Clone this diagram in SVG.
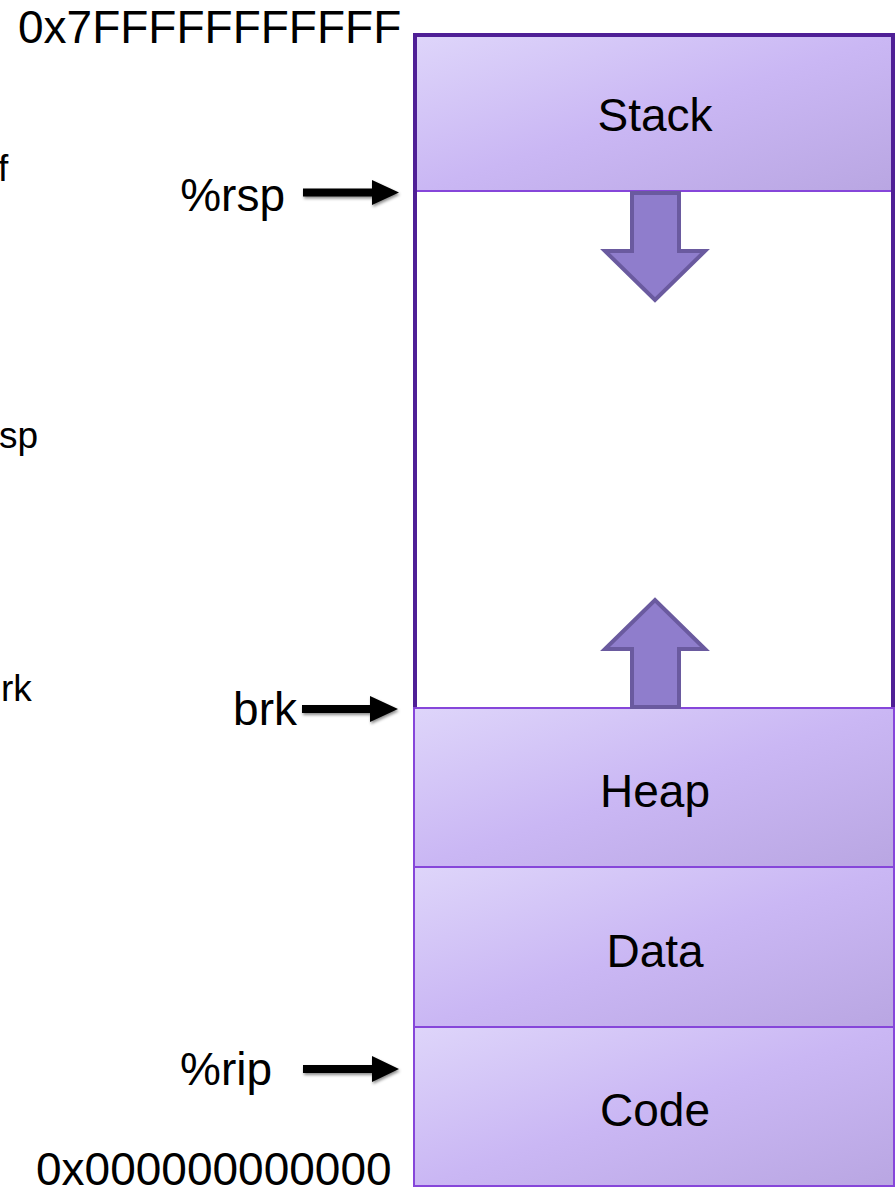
<svg xmlns="http://www.w3.org/2000/svg" width="896" height="1189" viewBox="0 0 896 1189">
<style>
.lbl{font-family:"Liberation Sans",Arial,sans-serif;font-size:46px;fill:#000}
.sm{font-family:"Liberation Sans",Arial,sans-serif;font-size:37px;fill:#000}
.seg{fill:url(#segGrad);stroke:#8646DA;stroke-width:2}
.blk{fill:#8F7DCC;stroke:#6A5A9F;stroke-width:4;stroke-linejoin:miter}
.ptr{fill:#000;filter:url(#shadow)}
</style>
<defs>
<linearGradient id="segGrad" x1="0" y1="0" x2="1" y2="1">
<stop offset="0" stop-color="#DED5FA"/>
<stop offset="0.5" stop-color="#CAB7F4"/>
<stop offset="1" stop-color="#B9A6E2"/>
</linearGradient>
<filter id="shadow" x="-20%" y="-50%" width="140%" height="200%">
<feDropShadow dx="1" dy="2" stdDeviation="1.5" flood-color="#000" flood-opacity="0.45"/>
</filter>
</defs>
<rect width="896" height="1189" fill="#fff"/>

<g id="labels">
<text class="lbl" x="18" y="43">0x7FFFFFFFFFFF</text>
<text class="lbl" x="36" y="1185">0x000000000000</text>
<text class="sm" x="-2" y="181">f</text>
<text class="sm" x="-1" y="448">sp</text>
<text class="sm" x="1" y="701">rk</text>
</g>

<g id="memory">
<g id="stack">
<rect x="416" y="36" width="476" height="155" fill="url(#segGrad)"/>
<line x1="416" y1="191" x2="892" y2="191" stroke="#8646DA" stroke-width="2"/>
<text class="lbl" x="655" y="131" text-anchor="middle">Stack</text>
</g>
<g id="free">
<rect x="417" y="192" width="475" height="515" fill="#fff"/>
</g>
<path id="border" d="M415,708 V35 H893 V708" fill="none" stroke="#4F1F96" stroke-width="4"/>
<g id="heap">
<rect class="seg" x="414" y="708" width="480" height="159"/>
<text class="lbl" x="655" y="807" text-anchor="middle">Heap</text>
</g>
<g id="data">
<rect class="seg" x="414" y="867" width="480" height="160"/>
<text class="lbl" x="655" y="967" text-anchor="middle">Data</text>
</g>
<g id="code">
<rect class="seg" x="414" y="1027" width="480" height="159"/>
<text class="lbl" x="655" y="1126" text-anchor="middle">Code</text>
</g>
<g id="stack-growth">
<path class="blk" d="M632,193 H679 V251 H705 L655,300 L605,251 H632 Z"/>
</g>
<g id="heap-growth">
<path class="blk" d="M632,707 H679 V649 H705 L655,600 L605,649 H632 Z"/>
</g>
</g>

<g id="pointers">
<g id="rsp">
<text class="lbl" x="285" y="211" text-anchor="end">%rsp</text>
</g>
<g id="brk">
<text class="lbl" x="297" y="725" text-anchor="end">brk</text>
</g>
<g id="rip">
<text class="lbl" x="180" y="1085">%rip</text>
</g>
</g>

<g id="connectors">
<path class="ptr" d="M303,188.5 H372 V180 L399,192.5 L372,205 V196.5 H303 Z"/>
<path class="ptr" d="M302,705 H370 V696 L398,709 L370,722 V713 H302 Z"/>
<path class="ptr" d="M303,1065 H372 V1056 L399,1069 L372,1082 V1073 H303 Z"/>
</g>
</svg>
